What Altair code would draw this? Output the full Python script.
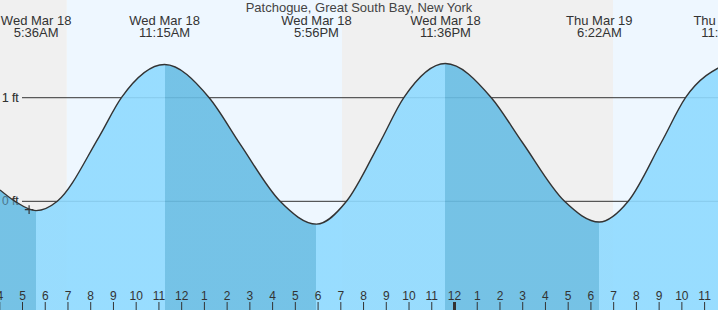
import altair as alt
import pandas as pd

W, H = 718, 310
# visible time window (hours since Wed Mar 18 00:00) and height window (ft)
T0, T1 = 4.0104, 35.589
Y0, Y1 = -1.049, 1.943

TITLE = "Patchogue, Great South Bay, New York"
FONT = "Liberation Sans"

# tide curve: hours since Wed Mar 18 00:00 -> feet
curve_t = [4.01, 4.67, 5.60, 6.53, 8.36, 9.35, 11.25, 13.21, 14.58, 16.33, 17.93, 19.25,
           20.70, 21.77, 23.60, 25.62, 26.98, 28.84, 30.37, 31.64, 33.10, 34.16, 35.97]
curve_v = [0.11, 0.00, -0.09, 0.00, 0.62, 1.00, 1.32, 1.00, 0.55, 0.00, -0.22, 0.00,
           0.56, 1.00, 1.33, 1.00, 0.57, 0.00, -0.20, 0.00, 0.57, 1.00, 1.33]

# high / low tide events
ext_t = [5.60, 11.25, 17.93, 23.60, 30.37, 35.97]
ext_v = [-0.09, 1.32, -0.22, 1.33, -0.20, 1.33]
ext_day = ["Wed Mar 18", "Wed Mar 18", "Wed Mar 18", "Wed Mar 18", "Thu Mar 19", "Thu Mar 19"]
ext_clock = ["5:36AM", "11:15AM", "5:56PM", "11:36PM", "6:22AM", "11:58AM"]

# night / day bands
sun_start = [0.0, 6.95, 19.05, 30.97]
sun_end = [6.95, 19.05, 30.97, 48.0]
sun_kind = ["night", "day", "night", "day"]

# reference levels
ref_v = [0, 1]
ref_label = ["0 ft", "1 ft"]

# hour ticks
tick_h = list(range(4, 36))
tick_label = [str((h - 1) % 12 + 1) for h in tick_h]
tick_w = [3 if h % 24 == 0 else 1 for h in tick_h]

# current time marker
now_t, now_v = 5.29, -0.08

LIGHT = "#8fdaff"
DARK = "#68bde4"

xs = alt.Scale(domain=[T0, T1], nice=False, zero=False)
ys = alt.Scale(domain=[Y0, Y1], nice=False, zero=False)

# gradient stops: falling tide dark, rising tide light, split at extremes
t_first, t_last = curve_t[0], curve_t[-1]
span = t_last - t_first
cur = DARK if ext_v[0] < ext_v[1] else LIGHT
stops = [alt.GradientStop(color=cur, offset=0)]
for t, v in zip(ext_t, ext_v):
    if t_first < t < t_last:
        o = (t - t_first) / span
        nxt = LIGHT if v < 0.5 else DARK
        stops.append(alt.GradientStop(color=cur, offset=o))
        stops.append(alt.GradientStop(color=nxt, offset=o))
        cur = nxt
stops.append(alt.GradientStop(color=cur, offset=1))
grad = alt.Gradient(gradient="linear", stops=stops, x1=0, x2=1, y1=0, y2=0)

sun_df = pd.DataFrame({"start": sun_start, "end": sun_end, "kind": sun_kind})
curve_df = pd.DataFrame({"t": curve_t, "v": curve_v, "base": [Y0] * len(curve_t)})
ext_df = pd.DataFrame({"t": ext_t, "v": ext_v, "day": ext_day, "clock": ext_clock})
ref_df = pd.DataFrame({"v": ref_v, "label": ref_label})
tick_df = pd.DataFrame({"h": tick_h, "label": tick_label, "w": tick_w})
now_df = pd.DataFrame({"t": [now_t], "v": [now_v]})
title_df = pd.DataFrame({"title": [TITLE]})

bg = alt.Chart(sun_df).mark_rect(clip=True).encode(
    x=alt.X("start:Q", scale=xs, axis=None),
    x2="end:Q",
    y=alt.value(0),
    y2=alt.value(H),
    color=alt.Color("kind:N", scale=alt.Scale(domain=["night", "day"],
                                              range=["#f0f0f0", "#eef7ff"]), legend=None),
)

ref_rules = alt.Chart(ref_df).mark_rule(color="#333333", strokeWidth=1).encode(
    y=alt.Y("v:Q", scale=ys, axis=None),
    x=alt.value(22),
    x2=alt.value(W),
)


def ref_labels(op):
    return alt.Chart(ref_df).mark_text(align="left", baseline="alphabetic", dy=4, opacity=op,
                                       fontSize=12, font=FONT, color="#333333").encode(
        y=alt.Y("v:Q", scale=ys, axis=None),
        x=alt.value(2),
        text="label:N",
    )


area = alt.Chart(curve_df).mark_area(interpolate="monotone", clip=True, color=grad,
                                     fillOpacity=0.9).encode(
    x=alt.X("t:Q", scale=xs, axis=None),
    y=alt.Y("v:Q", scale=ys, axis=None),
    y2="base:Q",
)

line = alt.Chart(curve_df).mark_line(interpolate="monotone", clip=True, color="#333333",
                                     strokeWidth=1.4).encode(
    x=alt.X("t:Q", scale=xs, axis=None),
    y=alt.Y("v:Q", scale=ys, axis=None),
)

now_mark = alt.Chart(now_df).mark_point(shape="M-1,0L1,0M0,-1L0,1", filled=False, size=74,
                                        color="#333333", strokeWidth=1.2, opacity=1).encode(
    x=alt.X("t:Q", scale=xs, axis=None),
    y=alt.Y("v:Q", scale=ys, axis=None),
)

ticks = alt.Chart(tick_df).mark_rule(color="#333333", clip=True).encode(
    x=alt.X("h:Q", scale=xs, axis=None),
    y=alt.value(302),
    y2=alt.value(H),
    strokeWidth=alt.StrokeWidth("w:Q", scale=None),
)

tick_text = alt.Chart(tick_df).mark_text(align="center", baseline="alphabetic", fontSize=12,
                                         font=FONT, color="#333333", clip=True).encode(
    x=alt.X("h:Q", scale=xs, axis=None),
    y=alt.value(299.5),
    text="label:N",
)

ev_day = alt.Chart(ext_df).mark_text(align="center", baseline="alphabetic", fontSize=13,
                                     font=FONT, color="#333333", clip=True).encode(
    x=alt.X("t:Q", scale=xs, axis=None),
    y=alt.value(25),
    text="day:N",
)

ev_clock = alt.Chart(ext_df).mark_text(align="center", baseline="alphabetic", fontSize=13,
                                       font=FONT, color="#333333", clip=True).encode(
    x=alt.X("t:Q", scale=xs, axis=None),
    y=alt.value(37),
    text="clock:N",
)

title = alt.Chart(title_df).mark_text(align="center", baseline="alphabetic", fontSize=13,
                                      font=FONT, color="#444444").encode(
    x=alt.value(W / 2),
    y=alt.value(11.5),
    text="title:N",
)

chart = alt.layer(
    bg, ref_rules, ref_labels(1), area, ref_labels(0.45), line, now_mark, ticks, tick_text,
    ev_day, ev_clock, title
).properties(
    width=W, height=H, padding=0, autosize=alt.AutoSizeParams(type="none")
).configure_view(stroke=None)

chart.save("out.html", embed_options={"renderer": "svg", "actions": False})
